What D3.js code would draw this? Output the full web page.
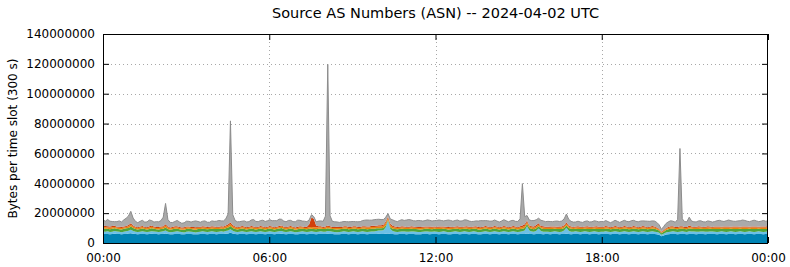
<!DOCTYPE html>
<html><head><meta charset="utf-8">
<script src="https://cdn.jsdelivr.net/npm/d3@7"></script>
<style>body{margin:0;background:#fff}svg{display:block}text{font-family:"DejaVu Sans",sans-serif;fill:#000}</style>
</head><body><svg id="c" width="790" height="267"></svg>
<script>
// values in millions of bytes per 300 s slot, 288 slots
const blue = [
6.2,6.0,6.1,5.9,6.0,6.2,6.1,6.0,5.8,6.0,6.1,6.3,6.6,6.2,6.0,5.9,6.0,6.1,6.0,5.9,6.0,6.2,6.1,6.0,
5.9,6.0,6.1,6.3,6.0,5.8,5.9,6.0,6.1,6.0,5.9,5.8,6.0,6.1,6.0,5.9,5.8,5.9,6.0,6.1,6.0,5.9,6.0,6.1,
6.0,5.9,6.0,6.1,6.0,6.2,6.4,6.8,6.3,6.0,5.9,6.0,6.1,6.0,5.9,6.0,6.1,6.0,5.9,6.0,6.1,6.0,5.9,6.0,
6.1,6.0,5.9,6.0,6.1,6.2,6.0,5.9,6.0,6.1,6.0,5.8,5.9,6.0,6.1,6.0,5.9,6.0,6.1,6.0,5.9,6.0,6.1,6.0,
6.0,6.2,6.1,6.0,5.9,5.8,5.9,6.0,6.1,6.0,5.9,6.0,6.1,6.0,5.9,6.0,6.1,6.0,5.9,6.0,6.1,6.0,6.1,6.2,
6.1,6.0,6.2,6.4,6.1,6.0,5.9,5.8,6.0,6.1,6.0,5.9,6.0,6.1,6.0,5.9,5.8,5.9,6.0,6.1,6.0,5.9,6.0,6.1,
6.0,5.9,6.0,6.1,6.0,5.8,5.9,6.0,6.1,6.0,5.9,6.0,6.1,6.0,5.9,6.0,6.1,6.0,5.8,5.9,6.0,6.1,6.0,5.9,
6.0,6.1,6.0,5.9,6.0,6.1,6.0,5.9,6.0,6.1,6.0,5.9,6.0,6.1,6.0,6.3,6.1,6.0,5.9,6.0,6.1,6.0,5.9,6.0,
6.0,5.9,6.0,6.1,6.0,5.9,6.0,6.1,6.2,6.0,5.9,6.0,6.1,6.0,5.9,6.0,6.1,6.0,5.9,6.0,6.1,6.0,5.9,6.0,
6.0,6.1,6.0,5.9,6.0,6.1,6.0,5.9,6.0,6.1,6.0,5.9,6.0,6.1,6.0,5.9,6.0,6.1,6.0,5.9,6.0,6.1,6.0,5.8,
5.5,4.5,5.0,5.7,5.9,6.0,6.1,6.0,5.9,6.0,6.1,6.0,5.9,6.0,6.1,6.0,5.9,6.0,6.1,6.0,5.9,6.0,6.1,6.0,
6.0,5.9,6.0,6.1,6.0,5.9,6.0,6.1,6.0,5.9,6.0,6.1,6.0,5.9,6.0,6.1,6.0,5.9,6.0,6.1,6.0,5.9,6.0,6.1];
const lightBlue = [
1.5,1.6,1.7,1.5,1.6,1.8,1.6,1.5,1.4,1.6,1.7,1.9,2.2,1.8,1.6,1.5,1.6,1.7,1.5,1.4,1.6,1.7,1.6,1.5,
1.4,1.6,1.7,2.0,1.6,1.4,1.5,1.6,1.7,1.5,1.4,1.3,1.5,1.6,1.5,1.4,1.3,1.5,1.6,1.7,1.5,1.4,1.6,1.7,
1.6,1.5,1.6,1.7,1.5,1.8,2.0,2.4,1.9,1.6,1.5,1.6,1.7,1.5,1.4,1.6,1.7,1.6,1.5,1.6,1.7,1.6,1.5,1.6,
1.7,1.6,1.5,1.6,1.7,1.8,1.6,1.5,1.6,1.7,1.6,1.4,1.5,1.6,1.7,1.6,1.5,1.6,1.7,1.6,1.5,1.6,1.7,1.6,
1.6,1.8,1.7,1.6,1.5,1.4,1.5,1.6,1.7,1.6,1.5,1.6,1.7,1.6,1.5,1.6,1.7,1.6,1.5,1.6,1.6,1.7,1.9,2.1,
2.2,2.6,4.2,8.5,3.2,2.0,1.7,1.6,1.5,1.6,1.7,1.6,1.5,1.6,1.7,1.6,1.5,1.4,1.5,1.6,1.7,1.6,1.5,1.6,
1.6,1.5,1.6,1.7,1.6,1.4,1.5,1.6,1.7,1.6,1.5,1.6,1.7,1.6,1.5,1.6,1.7,1.6,1.4,1.5,1.6,1.7,1.6,1.5,
1.6,1.7,1.6,1.5,1.6,1.7,1.6,1.5,1.6,1.7,1.6,1.5,1.6,1.8,2.4,5.0,2.2,1.7,1.6,2.2,3.6,2.0,1.7,1.6,
1.6,1.5,1.6,1.7,1.6,1.5,1.6,2.2,4.0,2.2,1.7,1.6,1.7,1.6,1.5,1.6,1.7,1.6,1.5,1.6,1.7,1.6,1.5,1.6,
1.6,1.7,1.6,1.5,1.6,1.7,1.6,1.5,1.6,1.7,1.6,1.5,1.6,1.7,1.6,1.5,1.6,1.7,1.6,1.5,1.6,1.7,1.6,1.5,
1.4,1.0,1.2,1.4,1.5,1.6,1.7,1.6,1.5,1.6,1.7,1.6,1.5,1.8,1.6,1.7,1.6,1.5,1.6,1.7,1.6,1.5,1.6,1.7,
1.6,1.5,1.6,1.7,1.6,1.5,1.6,1.7,1.6,1.5,1.6,1.7,1.6,1.5,1.6,1.7,1.6,1.5,1.6,1.7,1.6,1.5,1.6,1.7];
const green = [
1.8,1.9,1.7,1.8,2.0,1.9,1.8,1.7,1.8,1.9,2.0,1.9,2.2,2.0,1.8,1.7,1.8,1.9,1.8,1.7,1.8,1.9,1.8,1.7,
1.8,1.7,1.8,2.0,1.8,1.7,1.8,1.9,1.8,1.7,1.6,1.7,1.8,1.9,1.8,1.7,1.8,1.9,1.8,1.7,1.8,1.9,1.8,1.7,
1.8,1.9,1.8,1.7,1.8,1.9,2.0,2.2,1.9,1.8,1.7,1.8,1.9,1.8,1.7,1.8,1.9,1.8,1.7,1.8,1.9,1.8,1.7,1.8,
1.9,1.8,1.7,1.8,1.9,2.0,1.8,1.7,1.8,1.9,1.8,1.7,1.8,1.9,1.8,1.7,1.8,1.9,1.8,1.7,1.8,1.9,1.8,1.7,
1.8,1.9,1.8,1.7,1.8,1.9,1.8,1.7,1.8,1.9,1.8,1.7,1.8,1.9,1.8,1.7,1.8,1.9,1.8,1.7,1.8,1.9,1.8,1.6,
1.5,1.4,1.2,0.8,1.2,1.5,1.7,1.8,1.9,1.8,1.7,1.8,1.9,1.8,1.7,1.8,1.9,1.8,1.7,1.8,1.9,1.8,1.7,1.8,
1.8,1.9,1.8,1.7,1.8,1.9,1.8,1.7,1.8,1.9,1.8,1.7,1.8,1.9,1.8,1.7,1.8,1.9,1.8,1.7,1.8,1.9,1.8,1.7,
1.8,1.9,1.8,1.7,1.8,1.9,1.8,1.7,1.8,1.9,1.8,1.7,1.8,1.7,1.6,1.4,1.7,1.9,1.7,1.6,1.5,1.8,1.8,1.7,
1.8,1.9,1.8,1.7,1.8,1.9,1.8,1.7,1.5,1.8,1.9,1.8,1.7,1.8,1.9,1.8,1.7,1.8,1.9,1.8,1.7,1.8,1.9,1.8,
1.7,1.8,1.9,1.8,1.7,1.8,1.9,1.8,1.7,1.8,1.9,1.8,1.7,1.8,1.9,1.8,1.7,1.8,1.9,1.8,1.7,1.8,1.9,1.7,
1.5,1.0,1.3,1.6,1.8,1.9,1.8,1.7,1.8,1.9,1.8,1.7,1.8,1.9,1.8,1.7,1.8,1.9,1.8,1.7,1.8,1.9,1.8,1.7,
1.8,1.9,1.8,1.7,1.8,1.9,1.8,1.7,1.8,1.9,1.8,1.7,1.8,1.9,1.8,1.7,1.8,1.9,1.8,1.7,1.8,1.9,1.8,1.8];
const orange = [
1.2,1.0,0.9,1.1,1.0,0.9,0.8,1.0,1.1,0.9,1.0,1.2,1.3,1.0,0.9,0.8,0.9,1.0,0.9,0.8,1.0,1.1,0.9,0.8,
0.9,1.0,1.1,1.3,1.0,0.9,0.8,0.9,1.0,0.9,0.8,0.9,1.0,0.9,0.8,0.9,1.0,0.9,0.8,0.9,1.0,0.9,0.8,0.9,
1.0,0.9,0.8,0.9,1.0,1.1,1.2,1.4,1.1,1.0,0.9,0.8,0.9,1.0,0.9,0.8,0.9,1.0,0.9,0.8,0.9,1.0,0.9,0.8,
0.9,1.0,0.9,0.8,0.9,1.0,0.9,0.8,0.9,1.0,0.9,0.8,0.9,1.0,0.9,0.8,0.9,1.0,1.1,1.2,1.1,1.0,0.9,0.8,
0.9,1.0,0.9,0.8,0.9,1.0,0.9,0.8,0.9,1.0,0.9,0.8,0.9,1.0,0.9,0.8,0.9,1.0,1.1,1.2,1.3,1.2,1.1,1.2,
1.3,1.4,1.6,1.2,1.4,1.2,1.0,0.9,0.8,0.9,1.0,0.9,0.8,0.9,1.0,0.9,0.8,0.9,1.0,0.9,0.8,0.9,1.0,0.9,
0.8,0.9,1.0,0.9,0.8,0.9,1.0,0.9,0.8,0.9,1.0,0.9,0.8,0.9,1.0,0.9,0.8,0.9,1.0,0.9,0.8,0.9,1.0,0.9,
0.8,0.9,1.0,0.9,0.8,0.9,1.0,0.9,0.8,0.9,1.0,0.9,1.0,1.2,1.4,1.3,1.0,0.9,1.0,1.2,1.1,0.9,1.0,0.9,
0.8,0.9,1.0,0.9,0.8,0.9,1.0,1.1,1.2,1.0,0.9,0.8,0.9,1.0,0.9,0.8,0.9,1.0,0.9,0.8,0.9,1.0,0.9,0.8,
0.9,1.0,0.9,0.8,0.9,1.0,0.9,0.8,0.9,1.0,0.9,0.8,0.9,1.0,0.9,0.8,0.9,1.0,0.9,0.8,0.9,1.0,0.9,0.8,
0.7,0.6,0.7,0.8,0.9,1.0,0.9,0.8,0.9,1.0,0.9,0.8,0.9,1.1,0.9,0.8,0.9,1.0,0.9,0.8,0.9,1.0,0.9,0.8,
0.9,1.0,0.9,0.8,0.9,1.0,0.9,0.8,0.9,1.0,0.9,0.8,0.9,1.0,0.9,0.8,0.9,1.0,0.9,0.8,0.9,1.0,0.9,1.0];
const red = [
1.0,0.9,0.8,0.7,0.8,0.7,0.6,0.7,0.8,0.7,0.6,0.8,0.9,0.7,0.6,0.7,0.8,0.7,0.6,0.7,0.8,0.7,0.6,0.7,
0.8,0.7,0.6,0.9,0.7,0.6,0.7,0.8,0.7,0.6,0.7,0.8,0.7,0.6,0.7,0.8,0.7,0.6,0.7,0.8,0.7,0.6,0.7,0.8,
0.7,0.6,0.7,0.8,0.7,0.8,0.9,1.0,0.8,0.7,0.6,0.7,0.8,0.7,0.6,0.7,0.8,0.7,0.6,0.7,0.8,0.7,0.6,0.7,
0.8,0.7,0.6,0.7,0.8,0.7,0.6,0.7,0.8,0.7,0.6,0.7,0.8,0.7,0.6,0.7,0.8,2.0,6.5,5.5,1.5,0.8,0.7,0.6,
0.7,0.8,0.7,0.6,0.7,0.8,0.7,0.6,0.7,0.8,0.7,0.6,0.7,0.8,0.7,0.6,0.7,0.8,0.7,0.6,0.7,0.8,0.7,0.8,
0.8,0.9,1.0,0.8,1.0,0.8,0.7,0.6,0.7,0.8,0.7,0.6,0.7,0.8,0.7,0.6,0.7,0.8,0.7,0.6,0.7,0.8,0.7,0.6,
0.7,0.8,0.7,0.6,0.7,0.8,0.7,0.6,0.7,0.8,0.7,0.6,0.7,0.8,0.7,0.6,0.7,0.8,0.7,0.6,0.7,0.8,0.7,0.6,
0.7,0.8,0.7,0.6,0.7,0.8,0.7,0.6,0.7,0.8,0.7,0.6,0.8,1.0,1.2,1.0,0.8,0.7,0.8,1.0,0.9,0.7,0.8,0.7,
0.7,0.8,0.7,0.6,0.7,0.8,0.7,0.8,1.0,0.8,0.7,0.6,0.7,0.8,0.7,0.6,0.7,0.8,0.7,0.6,0.7,0.8,0.7,0.6,
0.7,0.8,0.7,0.6,0.7,0.8,0.7,0.6,0.7,0.8,0.7,0.6,0.7,0.8,0.7,0.6,0.7,0.8,0.7,0.6,0.7,0.8,0.7,0.6,
0.5,0.4,0.5,0.6,0.7,0.8,0.7,0.6,0.7,0.8,0.7,0.6,0.7,0.9,0.7,0.6,0.7,0.8,0.7,0.6,0.7,0.8,0.7,0.6,
0.7,0.8,0.7,0.6,0.7,0.8,0.7,0.6,0.7,0.8,0.7,0.6,0.7,0.8,0.7,0.6,0.7,0.8,0.7,0.6,0.7,0.8,0.7,0.8];
const gray = [
3.8,3.2,4.6,3.6,3.0,2.8,3.4,3.9,3.2,4.4,5.2,6.0,8.0,5.0,3.6,3.0,3.4,3.8,3.2,3.6,4.2,3.4,3.0,3.6,
3.4,4.0,6.0,14.0,4.6,3.4,3.0,3.2,3.8,3.4,2.8,3.0,3.6,3.4,3.2,3.8,4.2,3.6,3.0,3.4,3.8,3.2,3.0,3.6,
3.4,3.8,4.2,3.6,3.8,4.4,7.0,68.0,7.0,4.0,3.6,3.4,3.2,3.8,3.6,3.4,4.0,4.6,3.8,3.4,3.6,4.2,3.8,4.0,
4.2,3.8,4.4,4.0,4.6,4.2,3.8,3.6,4.0,3.8,3.4,3.8,4.4,4.0,3.6,3.8,3.4,3.0,1.8,1.6,2.4,3.4,3.6,3.8,
7.0,108.0,7.0,3.8,3.4,3.2,3.0,3.4,3.2,3.0,3.4,3.6,3.2,3.0,3.4,3.6,3.8,4.0,4.4,4.2,3.8,4.0,4.2,4.0,
3.8,3.4,3.0,2.0,3.2,4.0,3.8,3.6,4.2,4.4,4.0,4.6,4.8,4.2,3.8,4.0,4.4,4.2,3.8,4.0,4.4,4.2,3.8,4.0,
4.2,4.4,4.0,3.8,4.2,4.6,4.2,3.8,4.0,4.2,3.8,4.0,4.4,4.2,3.8,3.6,3.4,3.6,4.0,4.4,4.0,3.6,3.8,4.0,
3.8,4.0,3.6,3.4,3.8,4.2,3.8,3.6,4.0,3.8,3.4,3.8,5.0,28.0,5.0,3.4,3.6,3.8,4.0,3.6,3.4,3.8,3.6,3.4,
3.6,3.4,3.2,3.6,3.8,3.4,3.6,4.2,5.5,4.0,3.4,3.2,3.0,3.4,3.2,3.0,3.4,3.6,3.2,3.4,3.8,3.4,3.2,3.6,
3.4,3.6,3.2,3.0,3.4,3.8,3.4,3.2,3.6,3.8,3.4,3.6,4.0,3.8,3.4,3.6,3.8,3.4,3.6,4.0,3.6,3.4,3.6,3.4,
2.6,1.6,2.4,3.0,3.4,3.6,3.4,3.2,5.0,52.0,5.0,3.6,3.4,5.6,3.6,3.4,3.2,3.6,3.8,3.4,3.2,3.6,3.4,3.2,
3.4,3.8,4.2,3.8,3.4,3.8,4.4,4.0,3.6,3.4,3.8,4.0,4.4,4.0,3.6,3.4,3.8,4.2,3.8,3.4,3.6,4.0,3.6,3.4];

const seriesNames = ["blue","lightBlue","green","orange","red","gray"];
const seriesValues = [blue, lightBlue, green, orange, red, gray];
const seriesColors = ["#0083b4","#6cc0e6","#4ea43c","#e8860e","#d2400c","#aaaaaa"];
const yTicks = [0,20000000,40000000,60000000,80000000,100000000,120000000,140000000];
const xTickHours = [0,6,12,18,24];
const xTickLabels = ["00:00","06:00","12:00","18:00","00:00"];
const chartTitle = "Source AS Numbers (ASN) -- 2024-04-02 UTC";
const yLabel = "Bytes per time slot (300 s)";

const L=103, R=768, T=34, B=243;
const svg = d3.select("#c");
const n = blue.length;
const rows = d3.range(n).map(i => {
  const r = {i};
  seriesNames.forEach((k, j) => r[k] = seriesValues[j][i] * 1e6);
  return r;
});
const x = d3.scaleLinear().domain([0, n - 1]).range([L, R]);
const xh = d3.scaleLinear().domain([0, 24]).range([L, R]);
const y = d3.scaleLinear().domain([0, 140000000]).range([B, T]);

// grid
const grid = svg.append("g").attr("stroke","#a8a8a8").attr("stroke-width",1).attr("stroke-dasharray","1,3");
yTicks.slice(1, -1).forEach(v => grid.append("line").attr("x1",L).attr("x2",R).attr("y1",Math.round(y(v))+0.5).attr("y2",Math.round(y(v))+0.5));
xTickHours.slice(1, -1).forEach(h => grid.append("line").attr("y1",T).attr("y2",B).attr("x1",Math.round(xh(h))+0.5).attr("x2",Math.round(xh(h))+0.5));

// stacked areas
const stacked = d3.stack().keys(seriesNames)(rows);
const area = d3.area().x(d => x(d.data.i)).y0(d => y(d[0])).y1(d => y(d[1]));
svg.append("g").selectAll("path").data(stacked).join("path")
  .attr("d", area)
  .attr("fill", (d, j) => seriesColors[j]);
const topLayer = stacked[stacked.length - 1];
svg.append("path").datum(topLayer)
  .attr("d", d3.line().x(d => x(d.data.i)).y(d => y(d[1])))
  .attr("fill","none").attr("stroke","#8c8c8c").attr("stroke-width",1);

// axes (inward ticks, mirrored)
const fmt = d3.format("d");
const ax = svg.append("g");
ax.append("g").attr("transform",`translate(${L},0)`)
  .call(d3.axisLeft(y).tickValues(yTicks).tickFormat(fmt).tickSize(-6).tickPadding(8))
  .call(g => g.select(".domain").remove());
ax.append("g").attr("transform",`translate(${R},0)`)
  .call(d3.axisRight(y).tickValues(yTicks).tickFormat("").tickSize(-6))
  .call(g => g.select(".domain").remove());
ax.append("g").attr("transform",`translate(0,${B})`)
  .call(d3.axisBottom(xh).tickValues(xTickHours).tickFormat((d,i) => xTickLabels[i]).tickSize(-6).tickPadding(10))
  .call(g => g.select(".domain").remove());
ax.append("g").attr("transform",`translate(0,${T})`)
  .call(d3.axisTop(xh).tickValues(xTickHours).tickFormat("").tickSize(-6))
  .call(g => g.select(".domain").remove());
ax.selectAll("g").attr("font-family","DejaVu Sans").attr("font-size",12);
ax.selectAll("text").attr("fill","#000").style("font-family","DejaVu Sans").style("font-size","12px");
ax.selectAll("line").attr("stroke","#000");

svg.append("rect").attr("x",L+0.5).attr("y",T+0.5).attr("width",R-L-1).attr("height",B-T)
  .attr("fill","none").attr("stroke","#000").attr("stroke-width",1);

svg.append("text").attr("x",(L+R)/2).attr("y",17.5).attr("text-anchor","middle")
  .style("font-size","14.5px").text(chartTitle);
svg.append("text").attr("transform",`translate(16.5,${(T+B)/2}) rotate(-90)`)
  .attr("text-anchor","middle").style("font-size","12px").text(yLabel);
</script></body></html>
